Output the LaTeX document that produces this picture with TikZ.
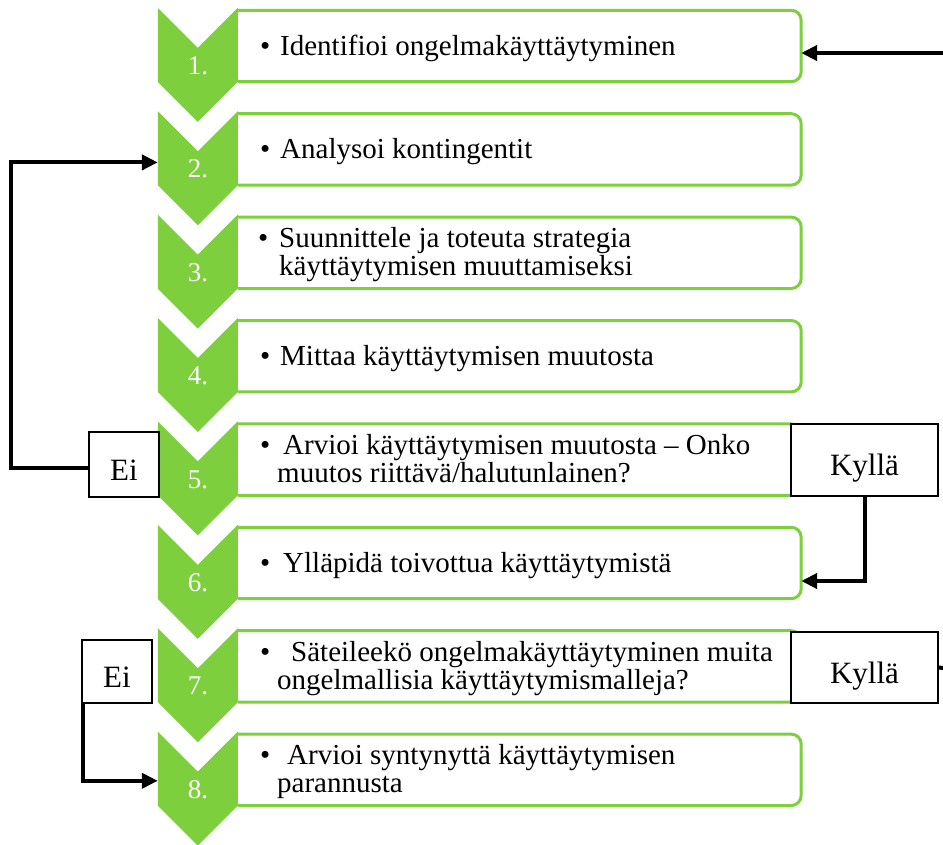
\documentclass[tikz,border=0pt]{standalone}
\usepackage{fontspec}
\setmainfont{Liberation Serif}
\usetikzlibrary{arrows.meta}
\definecolor{leaf}{HTML}{7DCF3E}

\begin{document}
\begin{tikzpicture}[x=1pt,y=-1pt,
  frame/.style={draw=none,inner sep=0pt,minimum width=563pt,minimum height=71pt},
  chevslot/.style={draw=none,inner sep=0pt,minimum width=80pt,minimum height=114pt},
  outline/.style={draw=leaf,line width=3pt},
  num/.style={text=white,font=\fontsize{27}{30}\selectfont,anchor=base,inner sep=0pt},
  item/.style={font=\fontsize{29}{29}\selectfont,anchor=base west,inner sep=0pt},
  answer/.style={draw=black,line width=1.5pt,fill=white,inner sep=0pt,
    font=\fontsize{31}{31}\selectfont,text height=37pt,text depth=6pt},
  wire/.style={line width=4pt},
  link/.style={wire,-{Triangle[length=16pt,width=15pt]}}
]
\useasboundingbox (0,0) rectangle (943,844);

% step boxes, chevrons and step numbers
\foreach \i in {1,...,8}{
  \pgfmathsetmacro\T{8+(\i-1)*103.4}
  \node[frame] (b\i) at (519.5,\T+38) {};
  \draw[outline,rounded corners=10pt] (b\i.north west) -- (b\i.north east)
    -- (b\i.south east) -- (b\i.south west);
  \node[chevslot] (c\i) at (198,\T+57) {};
  \fill[leaf] (c\i.north west) -- ++(40,40) -- ++(40,-40) -- ++(0,74)
    -- ++(-40,40) -- ++(-40,-40) -- cycle;
  \node[num] (n\i) at (198,\T+66.5) {\i.};
}

% bullets
\node[item] (d1) at (260,55)    {•};
\node[item] (d2) at (260,158.4) {•};
\node[item] (d3) at (258,247.8) {•};
\node[item] (d4) at (260,365.2) {•};
\node[item] (d5) at (260,454.6) {•};
\node[item] (d6) at (260,572)   {•};
\node[item] (d7) at (260,661.4) {•};
\node[item] (d8) at (260,764.8) {•};

% step texts
\node[item] (t1)  at (280,55)    {Identifioi ongelmakäyttäytyminen};
\node[item] (t2)  at (280,158.4) {Analysoi kontingentit};
\node[item] (t3a) at (279,247.8) {Suunnittele ja toteuta strategia};
\node[item] (t3b) at (279,275.8) {käyttäytymisen muuttamiseksi};
\node[item] (t4)  at (280,365.2) {Mittaa käyttäytymisen muutosta};
\node[item] (t5a) at (283,454.6) {Arvioi käyttäytymisen muutosta – Onko};
\node[item] (t5b) at (277,482.6) {muutos riittävä/halutunlainen?};
\node[item] (t6)  at (283,572)   {Ylläpidä toivottua käyttäytymistä};
\node[item] (t7a) at (291,661.4) {Säteileekö ongelmakäyttäytyminen muita};
\node[item] (t7b) at (277,689.4) {ongelmallisia käyttäytymismalleja?};
\node[item] (t8a) at (287,764.8) {Arvioi syntynyttä käyttäytymisen};
\node[item] (t8b) at (277,792.8) {parannusta};

% answer boxes
\node[answer,minimum width=70pt,minimum height=65pt]  (ei5) at (124,464.5)   {Ei};
\node[answer,minimum width=147pt,minimum height=72pt] (k5)  at (864.5,460)   {Kyllä};
\node[answer,minimum width=147pt,minimum height=71pt] (k7)  at (864.5,667.5) {Kyllä};
\node[answer,minimum width=70pt,minimum height=63pt]  (ei7) at (117,671.5)   {Ei};

% connectors
\coordinate (feed) at (943,53);
\coordinate (exit) at (943,668);
\draw[link] (feed) -- (feed -| b1.east);
\draw[link] ([yshift=-3pt]ei5.west) -- ++(-77,0) |- ([yshift=6pt]c2.west);
\draw[link] (k5.south) |- ([yshift=-18pt]b6.east);
\draw[wire] (k7.east) -- (exit);
\draw[link] ([xshift=1.5pt]ei7.south west) |- ([yshift=8pt]c8.west);
\end{tikzpicture}
\end{document}
